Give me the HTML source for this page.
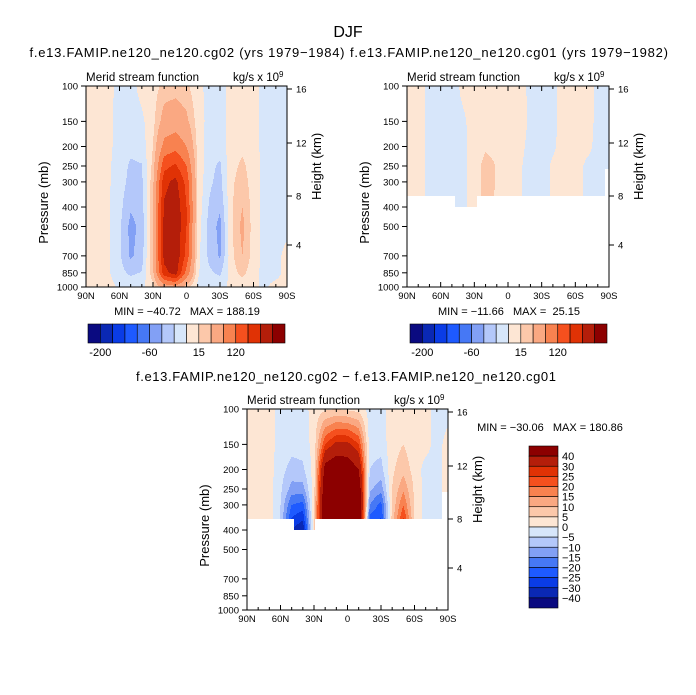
<!DOCTYPE html>
<html><head><meta charset="utf-8">
<style>
html,body{margin:0;padding:0;background:#fff;}
svg{display:block;font-family:"Liberation Sans",sans-serif;}
</style></head>
<body>
<svg id="chart" width="696" height="695" viewBox="0 0 696 695" xmlns="http://www.w3.org/2000/svg">
<rect width="696" height="695" fill="#fff"/>
<text x="348" y="37" font-size="16" text-anchor="middle">DJF</text>
<text x="187" y="57" font-size="13" text-anchor="middle" textLength="315">f.e13.FAMIP.ne120_ne120.cg02 (yrs 1979−1984)</text>
<text x="509" y="57" font-size="13" text-anchor="middle" textLength="318">f.e13.FAMIP.ne120_ne120.cg01 (yrs 1979−1982)</text>
<text x="346" y="381" font-size="13" text-anchor="middle" textLength="420">f.e13.FAMIP.ne120_ne120.cg02 − f.e13.FAMIP.ne120_ne120.cg01</text>
<g id="layer"></g>
</svg>
<script>
// ---- data ----
const lats = ['90N','80N','70N','60N','50N','40N','30N','20N','10N','0','10S','20S','30S','40S','50S','60S','70S','80S','90S'];
const pLevels = [100,150,200,250,300,400,500,700,850,1000];
const field1 = [
[5,5,5,-5,-5,5,8,20,22,18,5,-5,-5,5,5,5,-5,-5,-5],
[5,5,3,-5,-8,-3,10,40,45,35,8,-5,-6,5,8,5,-5,-5,-5],
[5,5,3,-5,-10,-8,15,70,80,60,10,-8,-8,8,12,5,-5,-5,-5],
[5,5,2,-6,-18,-16,20,110,125,90,12,-10,-18,10,18,8,-5,-5,-5],
[5,5,2,-8,-20,-18,25,140,160,110,12,-12,-20,12,22,8,-5,-5,-5],
[5,5,2,-10,-28,-22,30,155,175,120,10,-16,-28,12,30,8,-5,-5,-5],
[5,5,2,-12,-35,-25,30,160,178,120,8,-20,-35,12,35,8,-5,-5,-5],
[5,5,2,-12,-33,-22,30,160,175,110,5,-18,-32,10,30,8,-5,-5,5],
[5,5,2,-10,-18,-14,25,140,165,80,2,-12,-18,8,20,5,-5,-5,5],
[5,5,5,-2,-5,-3,10,40,50,20,-2,-5,-5,3,5,2,-2,5,5]];
const field2 = [
[5,5,-3,-5,-5,3,5,5,5,5,5,-3,-5,-3,5,5,5,-3,-3],
[5,5,-3,-5,-5,-2,5,8,8,5,5,-2,-5,-3,5,5,5,-3,-3],
[5,5,-3,-5,-5,-3,5,12,10,5,3,-3,-5,-2,5,5,3,-3,-3],
[5,5,-3,-5,-5,-3,5,22,14,6,2,-5,-5,2,5,5,-2,-3,-3],
[5,5,-3,-5,-5,-3,5,22,14,6,2,-5,-5,2,5,5,-2,-3,-3],
[5,5,-3,-5,-5,-3,5,20,12,5,2,-5,-5,2,5,5,-2,-3,-3],
[5,5,-3,-5,-5,-3,5,20,12,5,2,-5,-5,2,5,5,-2,-3,-3],
[5,5,-3,-5,-5,-3,5,20,12,5,2,-5,-5,2,5,5,-2,-3,-3],
[5,5,-3,-5,-5,-3,5,20,12,5,2,-5,-5,2,5,5,-2,-3,-3],
[5,5,-3,-5,-5,-3,5,20,12,5,2,-5,-5,2,5,5,-2,-3,-3]];
const field3 = [
[2,2,2,-2,-2,-2,2,4,5,4,3,-2,-2,3,3,2,2,-2,-2],
[2,2,2,-2,-3,-3,2,25,32,32,25,-3,-3,3,5,2,2,-2,2],
[2,2,2,-3,-7,-6,2,45,50,48,40,-5,-7,4,8,3,-2,-2,2],
[2,2,2,-4,-12,-12,3,50,55,55,50,-9,-13,5,14,4,-2,-2,2],
[2,2,2,-5,-20,-22,4,55,60,58,55,-15,-22,6,20,4,-2,-2,2],
[2,2,3,-6,-30,-35,5,55,60,58,55,-28,-28,8,30,5,-2,-2,2],
[2,2,3,-6,-30,-35,5,55,60,58,55,-28,-28,8,30,5,-2,-2,2],
[2,2,3,-6,-30,-35,5,55,60,58,55,-28,-28,8,30,5,-2,-2,2],
[2,2,3,-6,-30,-35,5,55,60,58,55,-28,-28,8,30,5,-2,-2,2],
[2,2,3,-6,-30,-35,5,55,60,58,55,-28,-28,8,30,5,-2,-2,2]];
const levelsTop = [-200,-150,-100,-80,-60,-30,-15,0,15,30,60,90,120,150,180];
const levelsDiff = [-40,-30,-25,-20,-15,-10,-5,0,5,10,15,20,25,30,40];
const topBarLabels = ['-200','-60','15','120'];
const topBarLabelIdx = [0,4,8,11];
const diffBarLabels = ['−40','−30','−25','−20','−15','−10','−5','0','5','10','15','20','25','30','40'];
const yTicks = [100,150,200,250,300,400,500,700,850,1000];
const hTicks = [16,12,8,4];
const xTickLabels = ['90N','60N','30N','0','30S','60S','90S'];
const palette = ['#0a0a80','#0a28b4','#0a3ce6','#1e5aff','#4678f5','#82a0f5','#b4c8fa','#d7e6fa','#fde6d4','#fcc8aa','#faa882','#f88250','#f5501e','#e03205','#b41e0a','#8c0000'];
</script>
<script>
const NS='http://www.w3.org/2000/svg';
const layer=document.getElementById('layer');
function mk(tag,attrs,parent){const e=document.createElementNS(NS,tag);for(const k in attrs)e.setAttribute(k,attrs[k]);(parent||layer).appendChild(e);return e;}
function txt(x,y,s,size,anchor,parent){const t=mk('text',{x:x,y:y,'font-size':size,'text-anchor':anchor||'start'},parent);t.textContent=s;return t;}
const hOffsets={16:3,12:57,8:110,4:159};

function sample(grid,s,p){
  let c=s/10; if(c<0)c=0; if(c>18)c=18;
  const c0=Math.min(17,Math.floor(c)), fc=c-c0;
  const lp=Math.log10(p); let r0=0;
  for(let i=0;i<pLevels.length-1;i++){if(lp>=Math.log10(pLevels[i]))r0=i;}
  const a=Math.log10(pLevels[r0]), b=Math.log10(pLevels[r0+1]);
  let fr=(lp-a)/(b-a); fr=Math.max(0,Math.min(1,fr));
  const v00=grid[r0][c0],v01=grid[r0][c0+1],v10=grid[r0+1][c0],v11=grid[r0+1][c0+1];
  return (v00*(1-fc)+v01*fc)*(1-fr)+(v10*(1-fc)+v11*fc)*fr;
}
function levelIdx(v,levels){let k=0;for(const l of levels)if(v>=l)k++;return k;}

function panel(o){
  const g=mk('g',{});
  
  
  const W=o.x1-o.x0,H=o.y1-o.y0;
  const cells=mk('g',{},g);
  
  
  for(let py=o.y0;py<o.y1;py++){
    const p=100*Math.pow(10,(py+0.5-o.y0)/H);
    let run=null;
    const flush=()=>{if(run&&run.ci>=0){const r=mk('rect',{x:run.x,y:py,width:run.w,height:1,fill:palette[run.ci]},cells);
      
      }};
    for(let px=o.x0;px<o.x1;px++){
      const s=(px+0.5-o.x0)/W*180;
      let ci=-1;
      if(!o.mask||o.mask(s,p)){ci=levelIdx(sample(o.grid,s,p),o.levels);}
      if(run&&run.ci===ci){run.w++;}else{flush();run={x:px,w:1,ci:ci};}
    }
    flush();
  }
  mk('rect',{x:o.x0,y:o.y0,width:W,height:H,fill:'none',stroke:'#000','stroke-width':1},g);
  yTicks.forEach(t=>{const y=o.y0+Math.log10(t/100)*H;
    mk('line',{x1:o.x0-5,x2:o.x0,y1:y,y2:y,stroke:'#000'},g);
    const l=txt(o.x0-8,y+3.5,String(t),9.5,'end',g);
    
    });
  const yl=txt(0,0,'Pressure (mb)',13,'middle',g);
  yl.setAttribute('transform','translate('+(o.x0-38)+','+(o.y0+H*0.58)+') rotate(-90)');
  
  
  hTicks.forEach(h=>{const y=o.y0+hOffsets[h];
    mk('line',{x1:o.x1,x2:o.x1+5,y1:y,y2:y,stroke:'#000'},g);
    const l=txt(o.x1+9,y+3.5,String(h),9.5,'start',g);
    
    });
  const hl=txt(0,0,'Height (km)',13,'middle',g);
  hl.setAttribute('transform','translate('+(o.x1+34)+','+(o.y0+H*0.4)+') rotate(-90)');
  
  
  for(let d=0;d<=180;d+=10){const x=o.x0+d/180*W;const len=d%30===0?5:3;
    mk('line',{x1:x,x2:x,y1:o.y1,y2:o.y1-len,stroke:'#000'},g);
    mk('line',{x1:x,x2:x,y1:o.y0,y2:o.y0+len,stroke:'#000'},g);}
  xTickLabels.forEach((s,i)=>{const x=o.x0+i*30/180*W;
    const l=txt(x,o.y1+12,s,9.5,'middle',g);
    
    });
  const st=mk('text',{x:o.x0,y:o.y0-5,'font-size':11.5,textLength:113},g);
  st.textContent='Merid stream function';
  
  
  const un=mk('text',{x:o.x0+147,y:o.y0-5,'font-size':11.5,'text-anchor':'start'},g);
  un.innerHTML='kg/s x 10<tspan font-size="8" dy="-4">9</tspan>';
  
  
  return g;
}

panel({name:'panel-cg02',x0:86,x1:287,y0:86,y1:287,grid:field1,levels:levelsTop});
panel({name:'panel-cg01',x0:407,x1:609,y0:86,y1:287,grid:field2,levels:levelsTop,
  mask:(s,p)=>{if(s>176&&p>260)return false;return p<=352||(s>=43&&s<=62&&p<=400);}});
panel({name:'panel-difference',x0:247,x1:448,y0:409,y1:610,grid:field3,levels:levelsDiff,
  mask:(s,p)=>{if(s>175&&p>260)return false;return p<=352||(s>=42&&s<=61&&p<=400);}});

[[187,315,'MIN = −40.72   MAX = 188.19','panel1-minmax'],[509,315,'MIN = −11.66   MAX =  25.15','panel2-minmax'],[550,431,'MIN = −30.06   MAX = 180.86','panel3-minmax']].forEach(a=>{
  const t=txt(a[0],a[1],a[2],11,'middle');t.setAttribute('xml:space','preserve');t.style.whiteSpace='pre';
  
  });

function hbar(x0,name){
  const g=mk('g',{});
  
  
  const w=197/16;
  palette.forEach((c,i)=>{const r=mk('rect',{x:x0+i*w,y:324,width:w,height:19,fill:c,stroke:'#000','stroke-width':0.6},g);
    
    });
  topBarLabels.forEach((s,i)=>{const t=txt(x0+(topBarLabelIdx[i]+1)*w,356,s,11,'middle',g);
    
    });
}
hbar(88,'colorbar-panel1');
hbar(410,'colorbar-panel2');

(function(){
  const g=mk('g',{});
  
  
  const y0=446,h=162/16;
  for(let i=0;i<16;i++){const r=mk('rect',{x:529,y:y0+i*h,width:29,height:h,fill:palette[15-i],stroke:'#000','stroke-width':0.6},g);
    
    }
  for(let j=0;j<15;j++){const t=txt(562,y0+(j+1)*h+4,diffBarLabels[14-j],11,'start',g);
    
    }
})();
</script>
</body></html>
